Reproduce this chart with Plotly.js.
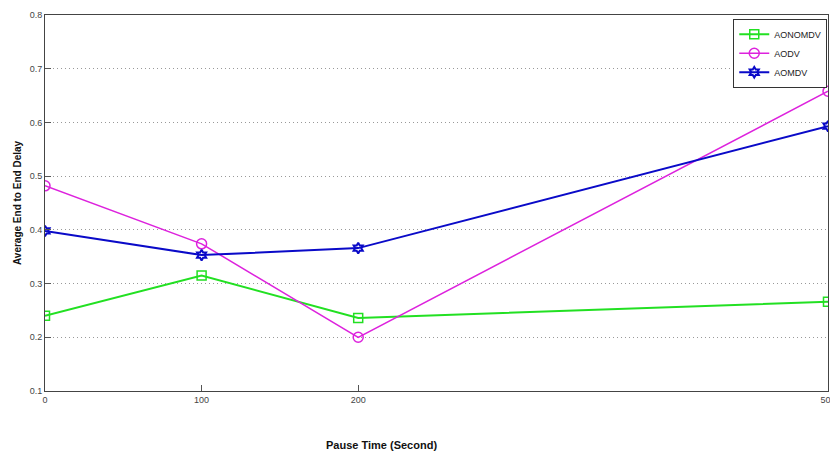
<!DOCTYPE html>
<html>
<head>
<meta charset="utf-8">
<script src="https://cdn.plot.ly/plotly-3.0.1.min.js"></script>
<style>html,body{margin:0;padding:0;background:#fff;}#chart{width:830px;height:453px;}</style>
</head>
<body>
<div id="chart"></div>
<script>
const pauseTime = [0, 100, 200, 500];
const aonomdv = [0.240, 0.315, 0.236, 0.266];
const aodv = [0.482, 0.374, 0.200, 0.658];
const aomdv = [0.398, 0.353, 0.366, 0.593];
const xTickVals = [0, 100, 200, 500];
const xTickText = ['0', '100', '200', '500'];
const yTickVals = [0.1, 0.2, 0.3, 0.4, 0.5, 0.6, 0.7, 0.8];

const traces = [
  {x: pauseTime, y: aonomdv, name: 'AONOMDV', mode: 'lines+markers',
   line: {color: '#22e022', width: 2},
   marker: {symbol: 'square-open', size: 9, color: '#22e022', line: {width: 1.5}}},
  {x: pauseTime, y: aodv, name: 'AODV', mode: 'lines+markers',
   line: {color: '#dd22dd', width: 1.5},
   marker: {symbol: 'circle-open', size: 10, color: '#dd22dd', line: {width: 1.5}}},
  {x: pauseTime, y: aomdv, name: 'AOMDV', mode: 'lines+markers',
   line: {color: '#0a0ac8', width: 2},
   marker: {symbol: 'hexagram-open', size: 8, color: '#0a0ac8', line: {width: 2}}}
];

const layout = {
  width: 830, height: 453,
  margin: {l: 45, r: 2, t: 15, b: 62},
  paper_bgcolor: '#fff', plot_bgcolor: '#fff',
  showlegend: true,
  font: {family: 'Arial, Liberation Sans, sans-serif', size: 9, color: '#444'},
  xaxis: {
    range: [0, 500], tickvals: xTickVals, ticktext: xTickText,
    ticks: 'inside', ticklen: 6, tickcolor: '#555', showgrid: false,
    showline: true, linecolor: '#444', linewidth: 1, mirror: true,
    zeroline: false, tickfont: {size: 9, color: '#444'},
    ticklabeloverflow: 'allow'
  },
  yaxis: {
    range: [0.1, 0.8], tickvals: yTickVals, tickformat: '.1f',
    ticks: 'inside', ticklen: 6, tickcolor: '#555',
    showgrid: true, gridcolor: '#999', griddash: '1px,3px', gridwidth: 1,
    showline: true, linecolor: '#444', linewidth: 1, mirror: true,
    zeroline: false, tickfont: {size: 9, color: '#444'}
  },
  legend: {
    x: 0.879, y: 0.99, xanchor: 'left', yanchor: 'top',
    bgcolor: '#fff', bordercolor: '#333', borderwidth: 1,
    font: {size: 9, color: '#222'}, tracegroupgap: 0, itemwidth: 30
  },
  annotations: [
    {text: '<b>Pause Time (Second)</b>', xref: 'paper', yref: 'paper',
     x: (381 - 45) / 783, y: -54 / 376, xanchor: 'center', yanchor: 'middle',
     showarrow: false, font: {size: 11, color: '#111'}},
    {text: '<b>Average End to End Delay</b>', xref: 'paper', yref: 'paper',
     x: -28 / 783, y: 0.5, xanchor: 'center', yanchor: 'middle', textangle: -90,
     showarrow: false, font: {size: 10, color: '#111'}}
  ]
};

Plotly.newPlot('chart', traces, layout, {displayModeBar: false, staticPlot: true});
</script>
</body>
</html>
